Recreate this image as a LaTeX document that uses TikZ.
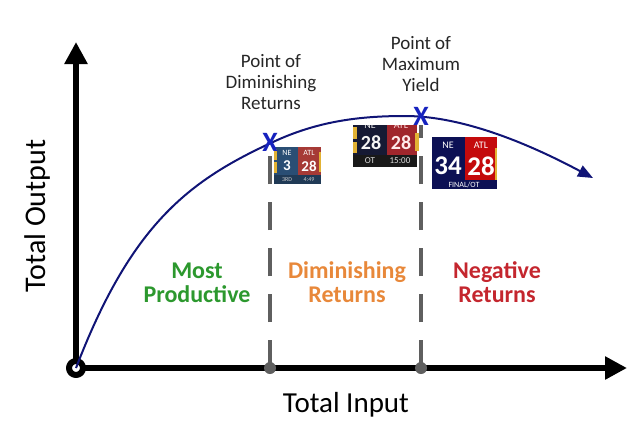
\documentclass[tikz,border=0pt]{standalone}
\usepackage{fontspec}
\setmainfont{Carlito}
\usetikzlibrary{arrows.meta}
\definecolor{curveblue}{RGB}{16,20,118}
\definecolor{markblue}{RGB}{22,34,190}
\definecolor{dashgray}{RGB}{95,95,95}
\definecolor{mostgreen}{RGB}{44,152,46}
\definecolor{dimorange}{RGB}{232,136,58}
\definecolor{negred}{RGB}{196,38,46}
\definecolor{sbyellow}{RGB}{226,178,52}
\definecolor{sbblueA}{RGB}{42,78,116}
\definecolor{sbredA}{RGB}{166,58,54}
\definecolor{sbdarkA}{RGB}{32,58,86}
\definecolor{sbnavyB}{RGB}{22,26,52}
\definecolor{sbredB}{RGB}{160,38,44}
\definecolor{sbnavyC}{RGB}{12,16,84}
\definecolor{sbredC}{RGB}{196,10,12}
\begin{document}
\begin{tikzpicture}[x=1pt, y=-1pt, line join=round,
  >={Triangle[length=22pt,width=22pt]},
  axis/.style={line width=5.5pt, ->},
  dashline/.style={dashgray, line width=4pt, dash pattern=on 28pt off 18pt},
  xmark/.style={text=markblue, inner sep=0pt, font=\bfseries\fontsize{28}{28}\selectfont},
  note/.style={text=black!85, align=center, inner sep=0pt, font=\fontsize{19}{21}\selectfont},
  region/.style={align=center, inner sep=0pt, font=\bfseries\fontsize{24}{24}\selectfont},
  sbtext/.style={text=white, inner sep=0pt}]
\useasboundingbox (0,0) rectangle (644,431);
% Gốc toạ độ và các điểm mốc
\coordinate (O) at (76,368);
\coordinate (Xend) at (627,368);
\coordinate (Yend) at (76,42);
\coordinate (P) at (270,368);
\coordinate (Q) at (421,368);
\coordinate (Ptop) at (270,150);
\coordinate (Qtop) at (421,125);
\coordinate (K) at (273,142);
\coordinate (M) at (405,116);
\coordinate (E) at (593,178);
% Hai trục
\draw[axis] (O) -- (Xend);
\draw[axis] (O) -- (Yend);
\draw[line width=6pt, fill=white] (O) circle(7pt);
% Đường cong tổng sản lượng
\draw[curveblue, line width=2pt, -{Triangle[length=15pt,width=12pt]}]
(O) .. controls (131,225) and (188,181) .. (K)
.. controls (318,121) and (360,116) .. (M)
.. controls (465,116) and (533,146) .. (E);
% Các đường nét đứt
\draw[dashline] (P) -- (Ptop);
\draw[dashline] (Q) -- (Qtop);
\fill[dashgray] (P) circle(6pt);
\fill[dashgray] (Q) circle(6pt);
% Bảng điểm 1
\fill[sbblueA] (274,147) rectangle (298,184);
\fill[sbredA] (298,147) rectangle (321,184);
\fill[sbdarkA] (274,175) rectangle (321,184);
\fill[sbyellow] (274,149) rectangle (276.5,160);
\fill[sbyellow] (274,162) rectangle (276.5,173);
\fill[sbyellow] (319,152) rectangle (321,172);
\node[sbtext, font=\fontsize{8}{8}\selectfont] (neA) at (287,153) {NE};
\node[sbtext, font=\fontsize{8}{8}\selectfont] (atlA) at (309,153) {ATL};
\node[sbtext, font=\bfseries\fontsize{15}{15}\selectfont] (scoreNeA) at (287,166) {3};
\node[sbtext, font=\bfseries\fontsize{15}{15}\selectfont] (scoreAtlA) at (309,166) {28};
\node[sbtext, text=white!60!gray, font=\fontsize{6}{6}\selectfont] (qtrA) at (287,180) {3RD};
\node[sbtext, text=white!60!gray, font=\fontsize{6}{6}\selectfont] (timeA) at (309,180) {4:49};
% Bảng điểm 2
\fill[sbnavyB] (353,125) rectangle (387,167);
\fill[sbredB] (387,125) rectangle (417,167);
\fill[black!90] (353,155) rectangle (417,167);
\fill[sbyellow] (353,127) rectangle (357,139);
\fill[sbyellow] (353,142) rectangle (357,153);
\fill[sbyellow] (415,133) rectangle (419,151);
\begin{scope}
\clip (353,125) rectangle (419,167);
\node[sbtext, text=white!85!gray, font=\fontsize{10}{10}\selectfont] (neB) at (370,125) {NE};
\node[sbtext, text=white!85!red, font=\fontsize{10}{10}\selectfont] (atlB) at (401,125) {ATL};
\end{scope}
\node[sbtext, text=white!92!gray, font=\bfseries\fontsize{20}{20}\selectfont] (scoreNeB) at (371,143) {28};
\node[sbtext, text=white!92!red, font=\bfseries\fontsize{20}{20}\selectfont] (scoreAtlB) at (401,143) {28};
\node[sbtext, text=white!75!gray, font=\fontsize{9}{9}\selectfont] (qtrB) at (370,161) {OT};
\node[sbtext, text=white!75!gray, font=\fontsize{9}{9}\selectfont] (timeB) at (400,161) {15:00};
% Bảng điểm 3
\fill[sbnavyC] (432,137) rectangle (465,189);
\fill[sbredC] (465,137) rectangle (497,189);
\fill[sbyellow] (494.5,148) rectangle (497,180);
\fill[sbnavyC] (432,180) rectangle (497,189);
\node[sbtext, font=\fontsize{10}{10}\selectfont] (neC) at (448,145) {NE};
\node[sbtext, font=\fontsize{10}{10}\selectfont] (atlC) at (481,145) {ATL};
\node[sbtext, font=\bfseries\fontsize{27}{27}\selectfont] (scoreNeC) at (448,166) {34};
\node[sbtext, font=\bfseries\fontsize{27}{27}\selectfont] (scoreAtlC) at (481,166) {28};
\node[sbtext, font=\fontsize{8}{8}\selectfont] (finalC) at (464,185) {FINAL/OT};
% Hai điểm đánh dấu
\node[xmark] (xDR) at (270,142) {X};
\node[xmark] (xMY) at (421,116) {X};
% Nhãn các điểm
\node[note] (lblDR) at (271,82) {Point of\\Diminishing\\Returns};
\node[note] (lblMY) at (421,64) {Point of\\Maximum\\Yield};
% Nhãn các vùng
\node[region, text=mostgreen] (most) at (197,283) {Most\\Productive};
\node[region, text=dimorange] (dim) at (347,282) {Diminishing\\Returns};
\node[region, text=negred] (neg) at (497,282) {Negative\\Returns};
% Nhãn các trục
\node[inner sep=0pt, font=\fontsize{29}{29}\selectfont] (inlbl) at (346,405) {Total Input};
\node[inner sep=0pt, rotate=90, font=\fontsize{30}{30}\selectfont] (outlbl) at (38,216) {Total Output};
\end{tikzpicture}
\end{document}
